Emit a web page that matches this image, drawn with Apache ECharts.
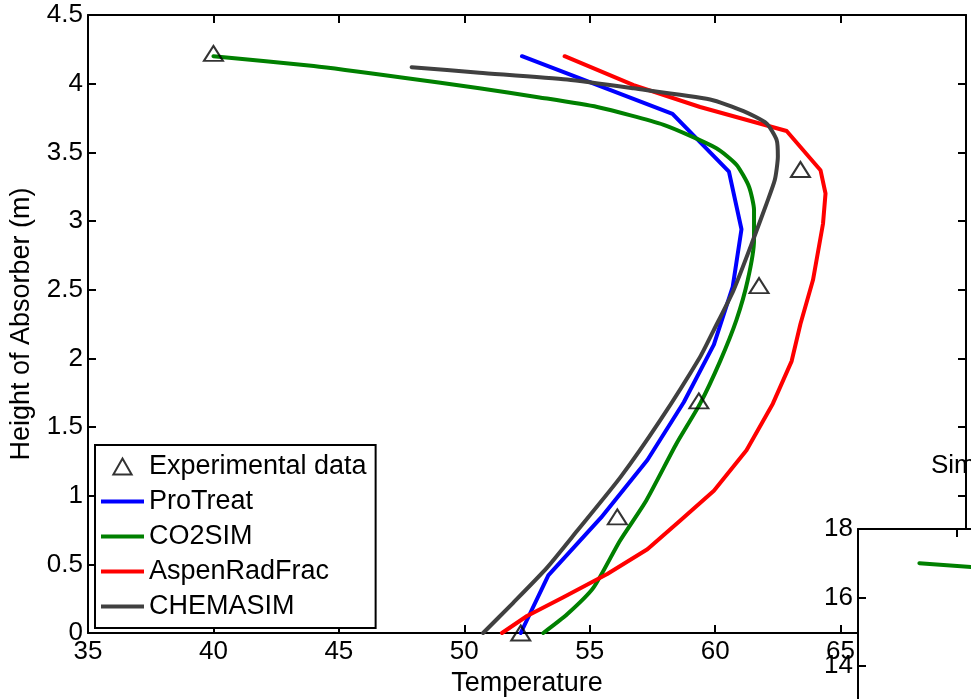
<!DOCTYPE html>
<html>
<head>
<meta charset="utf-8">
<script src="https://cdn.jsdelivr.net/npm/echarts@6/dist/echarts.min.js"></script>
<style>
html,body{margin:0;padding:0;background:#fff;}
#chart{width:971px;height:699px;}
</style>
</head>
<body>
<div id="chart"></div>
<script>
// ---- data ----
var xTicks = [35, 40, 45, 50, 55, 60, 65, 70];
var yTicks = [0, 0.5, 1, 1.5, 2, 2.5, 3, 3.5, 4, 4.5];

var expT = [40.0, 63.4, 61.75, 59.35, 56.1, 52.25];
var expH = [4.22, 3.375, 2.53, 1.69, 0.845, 0];

var proTreatT = [52.3, 58.3, 60.55, 61.05, 60.7, 59.95, 58.75, 57.3, 55.45, 53.35, 52.25];
var proTreatH = [4.2, 3.78, 3.36, 2.94, 2.52, 2.1, 1.68, 1.26, 0.84, 0.42, 0];

var co2simT = [40.0, 44.0, 47.5, 50.6, 53.0, 55.3, 57.95, 60.05, 60.85, 61.35, 61.55, 61.55, 61.3, 60.85, 60.2, 59.4, 58.45, 57.25, 56.2, 55.15, 54.1, 53.15];
var co2simH = [4.2, 4.128, 4.045, 3.966, 3.9, 3.83, 3.7, 3.53, 3.41, 3.25, 3.08, 2.86, 2.57, 2.28, 1.98, 1.67, 1.376, 0.963, 0.67, 0.33, 0.136, 0];

var aspenT = [54.0, 56.75, 59.4, 62.85, 64.2, 64.4, 64.3, 63.9, 63.4, 63.05, 62.3, 61.25, 59.95, 58.6, 57.3, 55.7, 53.95, 52.5, 51.5];
var aspenH = [4.2, 3.99, 3.83, 3.655, 3.37, 3.2, 2.98, 2.57, 2.25, 1.98, 1.67, 1.33, 1.036, 0.817, 0.61, 0.43, 0.26, 0.124, 0];

var chemasimT = [47.9, 50.6, 54.1, 56.75, 59.8, 61.13, 62.05, 62.45, 62.5, 62.38, 62.05, 61.55, 60.73, 59.93, 59.4, 57.8, 56.22, 54.5, 53.3, 51.95, 50.75];
var chemasimH = [4.12, 4.08, 4.03, 3.966, 3.885, 3.8, 3.71, 3.59, 3.47, 3.3, 3.127, 2.88, 2.494, 2.2, 2.01, 1.546, 1.133, 0.744, 0.476, 0.22, 0];

// inset (partly visible)
var insetX = [0.62, 1.2];
var insetY = [17.0, 16.88];
var insetYTicks = [10, 12, 14, 16, 18];

var seriesNames = ['Experimental data', 'ProTreat', 'CO2SIM', 'AspenRadFrac', 'CHEMASIM'];
var seriesColors = ['#000000', '#0000ff', '#008000', '#ff0000', '#404040'];

function zip(a, b) { return a.map(function (v, i) { return [v, b[i]]; }); }

var FONT = '"Liberation Sans", Arial, Helvetica, sans-serif';
var chart = echarts.init(document.getElementById('chart'), null, {renderer: 'canvas'});

var axisLine = {show: true, onZero: false, lineStyle: {color: '#000', width: 2}};
var tickIn = {show: true, inside: true, length: 8, lineStyle: {color: '#000', width: 2}};
var lbl = {color: '#000', fontSize: 26, fontFamily: FONT};
var LW = 4;

var lineIcon = 'path://M0,0H43V4H0Z';

var option = {
  animation: false,
  backgroundColor: '#fff',
  title: {
    text: 'Simulated', left: 931, top: 453, padding: 0,
    textStyle: {fontSize: 26, fontWeight: 'normal', color: '#000', fontFamily: FONT}
  },
  grid: [
    {left: 88, top: 15, width: 878, height: 618, containLabel: false, outerBoundsMode: 'none'},
    {left: 858, top: 529, width: 396, height: 274, show: true, backgroundColor: '#fff', borderWidth: 0, z: 5,
     containLabel: false, outerBoundsMode: 'none'}
  ],
  legend: {
    left: 95, top: 445, orient: 'vertical',
    backgroundColor: '#fff', borderColor: '#000', borderWidth: 2, borderRadius: 0,
    padding: [8, 9, 8, 6], itemGap: 8, itemWidth: 43, itemHeight: 16,
    textStyle: {fontSize: 27, color: '#000', fontFamily: FONT},
    z: 8,
    data: [
      {name: seriesNames[0], icon: 'path://M8,0L16,14L0,14Z', itemStyle: {color: 'rgba(0,0,0,0)', borderColor: '#000', borderWidth: 2}},
      {name: seriesNames[1], icon: lineIcon, itemStyle: {color: seriesColors[1], borderWidth: 0}},
      {name: seriesNames[2], icon: lineIcon, itemStyle: {color: seriesColors[2], borderWidth: 0}},
      {name: seriesNames[3], icon: lineIcon, itemStyle: {color: seriesColors[3], borderWidth: 0}},
      {name: seriesNames[4], icon: lineIcon, itemStyle: {color: seriesColors[4], borderWidth: 0}}
    ]
  },
  xAxis: [
    {gridIndex: 0, type: 'value', position: 'bottom', min: xTicks[0], max: xTicks[xTicks.length - 1], interval: 5,
     axisLine: axisLine, axisTick: tickIn, splitLine: {show: false},
     axisLabel: Object.assign({margin: 6}, lbl),
     name: 'Temperature', nameLocation: 'middle', nameGap: 36,
     nameTextStyle: {fontSize: 27, color: '#000', fontFamily: FONT}},
    {gridIndex: 0, type: 'value', position: 'top', min: xTicks[0], max: xTicks[xTicks.length - 1], interval: 5,
     axisLine: axisLine, axisTick: tickIn, splitLine: {show: false}, axisLabel: {show: false}},
    {gridIndex: 1, type: 'value', position: 'bottom', min: 0, max: 4, interval: 1, z: 6,
     axisLine: axisLine, axisTick: tickIn, splitLine: {show: false}, axisLabel: Object.assign({margin: 6}, lbl)},
    {gridIndex: 1, type: 'value', position: 'top', min: 0, max: 4, interval: 1, z: 6,
     axisLine: axisLine, axisTick: tickIn, splitLine: {show: false}, axisLabel: {show: false}}
  ],
  yAxis: [
    {gridIndex: 0, type: 'value', position: 'left', min: yTicks[0], max: yTicks[yTicks.length - 1], interval: 0.5,
     axisLine: axisLine, axisTick: tickIn, splitLine: {show: false},
     axisLabel: Object.assign({margin: 5}, lbl),
     name: 'Height of Absorber (m)', nameLocation: 'middle', nameGap: 53, nameRotate: 90,
     nameTextStyle: {fontSize: 27, color: '#000', fontFamily: FONT}},
    {gridIndex: 0, type: 'value', position: 'right', min: yTicks[0], max: yTicks[yTicks.length - 1], interval: 0.5,
     axisLine: axisLine, axisTick: tickIn, splitLine: {show: false}, axisLabel: {show: false}},
    {gridIndex: 1, type: 'value', position: 'left', min: insetYTicks[0], max: insetYTicks[insetYTicks.length - 1], interval: 2, z: 6,
     axisLine: axisLine, axisTick: tickIn, splitLine: {show: false}, axisLabel: Object.assign({margin: 5}, lbl)},
    {gridIndex: 1, type: 'value', position: 'right', min: insetYTicks[0], max: insetYTicks[insetYTicks.length - 1], interval: 2, z: 6,
     axisLine: axisLine, axisTick: tickIn, splitLine: {show: false}, axisLabel: {show: false}}
  ],
  series: [
    {name: seriesNames[0], type: 'scatter', xAxisIndex: 0, yAxisIndex: 0, data: zip(expT, expH),
     symbol: 'triangle', symbolSize: [19, 15], z: 4,
     itemStyle: {color: 'rgba(0,0,0,0)', borderColor: '#000', borderWidth: 2}},
    {name: seriesNames[1], type: 'line', xAxisIndex: 0, yAxisIndex: 0, data: zip(proTreatT, proTreatH),
     showSymbol: false, symbol: 'none', color: seriesColors[1],
     lineStyle: {width: LW, color: seriesColors[1], cap: 'round', join: 'round'}},
    {name: seriesNames[2], type: 'line', xAxisIndex: 0, yAxisIndex: 0, data: zip(co2simT, co2simH),
     showSymbol: false, symbol: 'none', color: seriesColors[2], smooth: 0.2,
     lineStyle: {width: LW, color: seriesColors[2], cap: 'round', join: 'round'}},
    {name: seriesNames[3], type: 'line', xAxisIndex: 0, yAxisIndex: 0, data: zip(aspenT, aspenH),
     showSymbol: false, symbol: 'none', color: seriesColors[3],
     lineStyle: {width: LW, color: seriesColors[3], cap: 'round', join: 'round'}},
    {name: seriesNames[4], type: 'line', xAxisIndex: 0, yAxisIndex: 0, data: zip(chemasimT, chemasimH),
     showSymbol: false, symbol: 'none', color: seriesColors[4], smooth: 0.2,
     lineStyle: {width: LW, color: seriesColors[4], cap: 'round', join: 'round'}},
    {name: 'inset', type: 'line', xAxisIndex: 2, yAxisIndex: 2, data: zip(insetX, insetY),
     showSymbol: false, symbol: 'none', color: seriesColors[2], z: 7,
     lineStyle: {width: LW, color: seriesColors[2], cap: 'round', join: 'round'}}
  ]
};
chart.setOption(option);
</script>
</body>
</html>
